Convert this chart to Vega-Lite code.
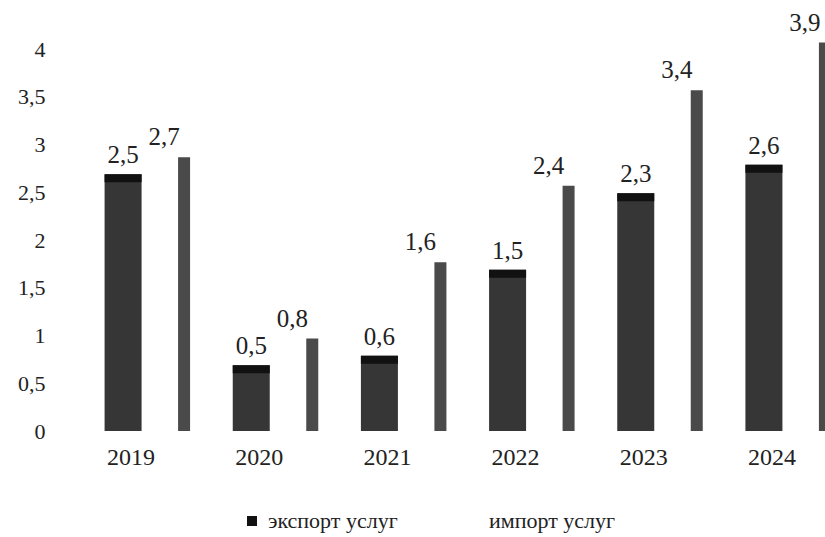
{
  "$schema": "https://vega.github.io/schema/vega-lite/v6.json",
  "width": 769,
  "height": 382,
  "autosize": {"type": "none"},
  "padding": {"left": 56, "top": 49, "right": 0, "bottom": 106},
  "background": "white",
  "config": {
    "locale": {"number": {"decimal": ",", "thousands": " ", "grouping": [3], "currency": ["", ""]}},
    "view": {"stroke": null},
    "font": "Liberation Serif"
  },
  "data": {
    "values": [
      {"year": "2019", "series": "экспорт услуг", "value": 2.5},
      {"year": "2020", "series": "экспорт услуг", "value": 0.5},
      {"year": "2021", "series": "экспорт услуг", "value": 0.6},
      {"year": "2022", "series": "экспорт услуг", "value": 1.5},
      {"year": "2023", "series": "экспорт услуг", "value": 2.3},
      {"year": "2024", "series": "экспорт услуг", "value": 2.6},
      {"year": "2019", "series": "импорт услуг", "value": 2.7},
      {"year": "2020", "series": "импорт услуг", "value": 0.8},
      {"year": "2021", "series": "импорт услуг", "value": 1.6},
      {"year": "2022", "series": "импорт услуг", "value": 2.4},
      {"year": "2023", "series": "импорт услуг", "value": 3.4},
      {"year": "2024", "series": "импорт услуг", "value": 3.9}
    ]
  },
  "encoding": {
    "x": {
      "field": "year", "type": "ordinal",
      "scale": {"paddingInner": 0, "paddingOuter": 0},
      "axis": {"title": null, "domain": false, "ticks": false, "labelAngle": 0, "labelFontSize": 24, "labelPadding": 14, "labelOffset": 11, "labelColor": "#222222", "labelFont": "Liberation Serif"}
    },
    "y": {
      "field": "value", "type": "quantitative",
      "scale": {"domain": [0, 4], "nice": false},
      "axis": {"title": null, "domain": false, "ticks": false, "grid": false, "values": [0, 0.5, 1, 1.5, 2, 2.5, 3, 3.5, 4], "format": "~g", "labelFontSize": 22, "labelPadding": 11, "labelColor": "#222222", "labelFont": "Liberation Serif"}
    }
  },
  "layer": [
    {
      "transform": [{"filter": "datum.series === 'экспорт услуг'"}],
      "mark": {"type": "bar", "width": 37, "xOffset": 3, "yOffset": -18, "y2Offset": 0.01, "color": "#363636"},
      "encoding": {"y2": {"datum": 0}}
    },
    {
      "transform": [{"filter": "datum.series === 'экспорт услуг'"}],
      "mark": {"type": "bar", "width": 37, "xOffset": 3, "yOffset": -18, "y2Offset": -10},
      "encoding": {
        "y2": {"field": "value"},
        "color": {
          "field": "series", "type": "nominal",
          "scale": {"domain": ["экспорт услуг", "импорт услуг"], "range": ["#111111", "#ffffff"]},
          "legend": {"title": null, "orient": "none", "legendX": 185, "legendY": 461, "direction": "horizontal", "symbolType": "square", "symbolSize": 100, "symbolStrokeWidth": 0, "labelFontSize": 22, "labelFont": "Liberation Serif", "labelColor": "#222222", "columnPadding": 64, "labelOffset": 5, "padding": 0}
        }
      }
    },
    {
      "transform": [{"filter": "datum.series === 'импорт услуг'"}],
      "mark": {"type": "bar", "width": 12, "xOffset": 64, "yOffset": -16, "y2Offset": 0.01, "color": "#4a4a4a"},
      "encoding": {"y2": {"datum": 0}}
    },
    {
      "transform": [{"filter": "datum.series === 'экспорт услуг'"}],
      "mark": {"type": "text", "dx": 3, "dy": -37, "fontSize": 25, "font": "Liberation Serif", "color": "#222222", "baseline": "middle"},
      "encoding": {"text": {"field": "value", "type": "quantitative", "format": ".1f"}}
    },
    {
      "transform": [{"filter": "datum.series === 'импорт услуг'"}],
      "mark": {"type": "text", "dx": 44, "dy": -36, "fontSize": 25, "font": "Liberation Serif", "color": "#222222", "baseline": "middle"},
      "encoding": {"text": {"field": "value", "type": "quantitative", "format": ".1f"}}
    }
  ]
}
